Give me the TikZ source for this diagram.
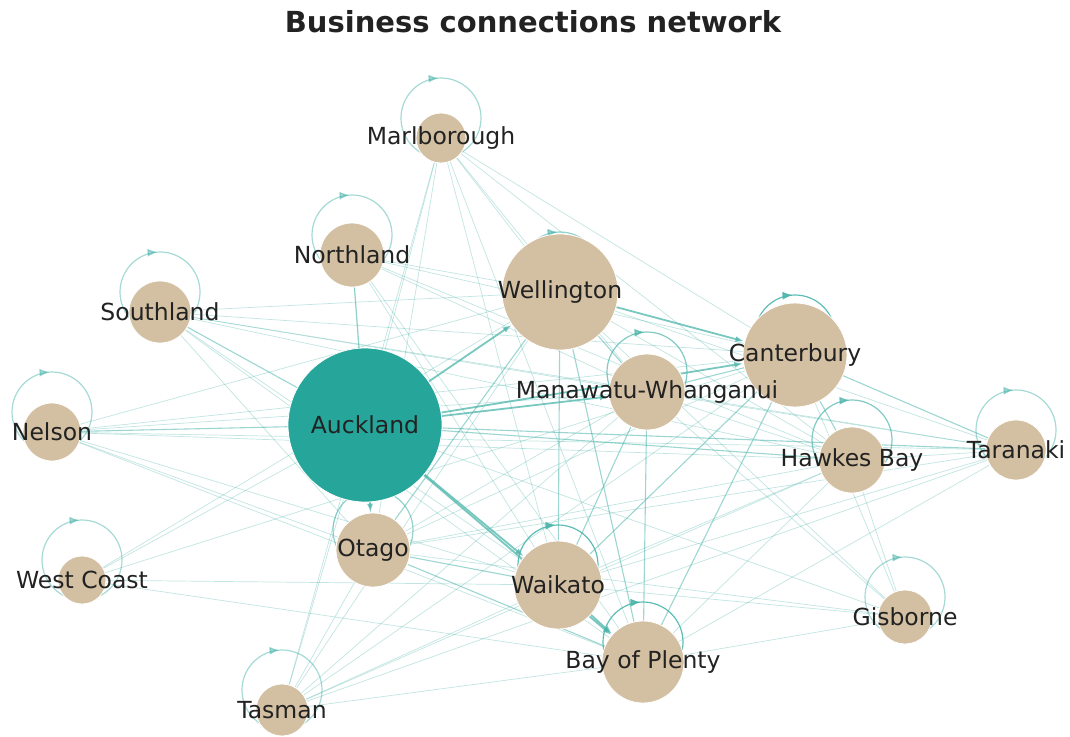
\documentclass[tikz,border=0pt]{standalone}
\usepackage{fontspec}
\setmainfont{DejaVu Sans}
\usetikzlibrary{arrows.meta,decorations.markings}
\definecolor{sand}{RGB}{211,191,161}
\definecolor{akteal}{RGB}{38,166,154}
\definecolor{linkteal}{RGB}{77,182,172}
\definecolor{labelgray}{RGB}{34,34,34}
\pgfdeclarelayer{background}
\pgfsetlayers{background,main}
\tikzset{
	region/.style={circle,fill=sand,draw=white,line width=0.8pt,inner sep=0pt,minimum size=#1},
	hub/.style={circle,fill=akteal,draw=white,line width=0.8pt,inner sep=0pt,minimum size=#1},
	lbl/.style={text=labelgray,font=\fontsize{23.5}{28}\selectfont,inner sep=0pt},
	link/.style={draw=linkteal,opacity=0.35,line width=0.7pt},
	midlink/.style={draw=linkteal,opacity=0.55,line width=1.1pt},
	heavylink/.style={draw=linkteal,opacity=0.75,line width=1.8pt,-{Latex[length=9pt,width=6pt]}},
	selfloop/.style={draw=linkteal,opacity=#1,line width=1.2pt,postaction={decorate},
		decoration={markings,mark=at position 0.24 with {\arrow{Latex[length=10pt,width=8pt]}}}},
}
\begin{document}
\begin{tikzpicture}[x=1pt,y=1pt]
		\useasboundingbox (0,0) rectangle (1070,-736);
		
		\node[font=\bfseries\fontsize{29}{34}\selectfont,text=labelgray] (title) at (533,-22) {Business connections network};
		
		\node[region=50] (mar) at (441,-138) {};
		\node[region=64] (nor) at (352,-255) {};
		\node[region=62] (sou) at (160,-312) {};
		\node[region=116] (wel) at (560,-292) {};
		\node[region=104] (can) at (795,-355) {};
		\node[region=76] (man) at (647,-392) {};
		\node[region=58] (nel) at (52,-432) {};
		\node[region=66] (haw) at (852,-460) {};
		\node[region=60] (tar) at (1016,-450) {};
		\node[region=74] (ota) at (373,-550) {};
		\node[region=48] (wes) at (82,-580) {};
		\node[region=88] (wai) at (558,-585) {};
		\node[region=54] (gis) at (905,-617) {};
		\node[region=82] (bop) at (643,-662) {};
		\node[region=52] (tas) at (282,-710) {};
		\node[hub=154] (auc) at (365,-425) {};
		
		\begin{pgfonlayer}{background}
			\fill[white] (0,0) rectangle (1070,-736);
			
			\foreach \a/\b in {mar/wel,mar/can,mar/auc,mar/wai,mar/bop,mar/ota,mar/tas,mar/man,mar/haw,
				nor/wel,nor/can,nor/man,nor/wai,nor/bop,nor/ota,nor/haw,
				sou/wel,sou/can,sou/man,sou/wai,sou/bop,sou/ota,sou/haw,
				nel/wel,nel/can,nel/man,nel/wai,nel/bop,nel/ota,nel/haw,
				wes/auc,wes/wel,wes/can,wes/wai,wes/bop,
				tas/auc,tas/wel,tas/can,tas/man,tas/wai,tas/bop,tas/ota,tas/haw,tas/tar,
				gis/auc,gis/wel,gis/can,gis/man,gis/wai,gis/bop,gis/haw,gis/ota,
				tar/wel,tar/man,tar/wai,tar/bop,tar/haw,tar/ota,tar/nel,tar/sou,
				haw/wel,haw/man,haw/wai,haw/bop,haw/ota,ota/man,ota/can}
				\draw[link] (\a) -- (\b);
			
			\foreach \a/\b in {auc/nor,auc/haw,wel/man,wel/wai,wel/bop,can/man,can/wai,can/haw,
				man/wai,man/bop,ota/wai,ota/bop,auc/sou,auc/nel,auc/tar,wel/ota,can/tar,can/bop}
				\draw[midlink] (\a) -- (\b);
			
			\foreach \a/\b in {auc/wai,auc/wel,wel/can,wai/bop,auc/can,auc/man,auc/ota,auc/bop}
				\draw[heavylink] (\a) -- (\b);
			
			\foreach \n/\o in {mar/0.5,nor/0.5,sou/0.5,wel/0.6,can/0.9,man/0.7,nel/0.5,haw/0.7,
				tar/0.5,ota/0.6,wes/0.5,wai/0.9,gis/0.5,bop/0.9,tas/0.5}
				\draw[selfloop=\o] (\n.center) ++(-40,20) arc[start angle=180,end angle=-180,radius=40];
		\end{pgfonlayer}
		
		\node[lbl] (mar-l) at (mar) {Marlborough};
		\node[lbl] (nor-l) at (nor) {Northland};
		\node[lbl] (sou-l) at (sou) {Southland};
		\node[lbl] (wel-l) at (wel) {Wellington};
		\node[lbl] (can-l) at (can) {Canterbury};
		\node[lbl] (man-l) at (man) {Manawatu-Whanganui};
		\node[lbl] (auc-l) at (auc) {Auckland};
		\node[lbl] (nel-l) at (nel) {Nelson};
		\node[lbl] (haw-l) at (haw) {Hawkes Bay};
		\node[lbl] (tar-l) at (tar) {Taranaki};
		\node[lbl] (ota-l) at (ota) {Otago};
		\node[lbl] (wes-l) at (wes) {West Coast};
		\node[lbl] (wai-l) at (wai) {Waikato};
		\node[lbl] (gis-l) at (gis) {Gisborne};
		\node[lbl] (bop-l) at (bop) {Bay of Plenty};
		\node[lbl] (tas-l) at (tas) {Tasman};
	\end{tikzpicture}
\end{document}
